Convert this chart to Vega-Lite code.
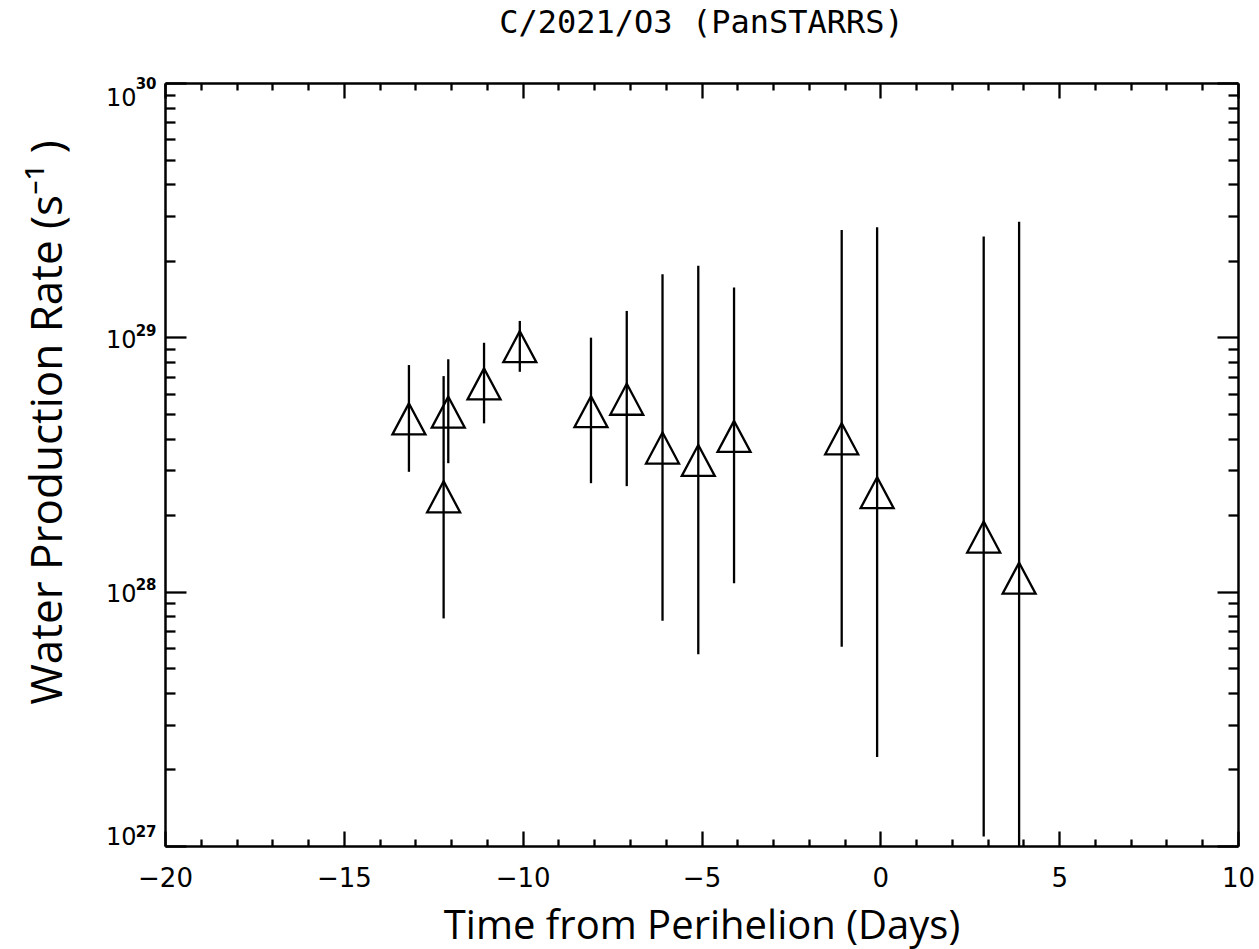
{
  "$schema": "https://vega.github.io/schema/vega-lite/v6.json",
  "width": 1073,
  "height": 763,
  "autosize": "none",
  "padding": {"left": 165, "top": 83, "right": 21, "bottom": 103},
  "background": "white",
  "title": {
    "text": "C/2021/O3 (PanSTARRS)",
    "font": "DejaVu Sans Mono",
    "fontSize": 32,
    "fontWeight": "normal",
    "color": "black",
    "offset": 36
  },
  "data": {
    "values": [
      {"t": -13.18, "q": 4.78e28, "lo": 2.96e28, "hi": 7.78e28},
      {"t": -12.21, "q": 2.36e28, "lo": 7.85e27, "hi": 7.04e28},
      {"t": -12.08, "q": 5.08e28, "lo": 3.2e28, "hi": 8.2e28},
      {"t": -11.08, "q": 6.56e28, "lo": 4.59e28, "hi": 9.52e28},
      {"t": -10.08, "q": 9.19e28, "lo": 7.32e28, "hi": 1.16e29},
      {"t": -8.09, "q": 5.1e28, "lo": 2.67e28, "hi": 9.97e28},
      {"t": -7.09, "q": 5.71e28, "lo": 2.6e28, "hi": 1.27e29},
      {"t": -6.09, "q": 3.67e28, "lo": 7.69e27, "hi": 1.77e29},
      {"t": -5.09, "q": 3.28e28, "lo": 5.68e27, "hi": 1.91e29},
      {"t": -4.09, "q": 4.08e28, "lo": 1.08e28, "hi": 1.57e29},
      {"t": -1.08, "q": 3.99e28, "lo": 6.07e27, "hi": 2.64e29},
      {"t": -0.09, "q": 2.45e28, "lo": 2.24e27, "hi": 2.71e29},
      {"t": 2.89, "q": 1.64e28, "lo": 1.09e27, "hi": 2.49e29},
      {"t": 3.88, "q": 1.13e28, "lo": 5e26, "hi": 2.85e29}
    ]
  },
  "layer": [
    {
      "mark": {"type": "rule", "color": "black", "strokeWidth": 2.3, "clip": true},
      "encoding": {
        "x": {
          "field": "t", "type": "quantitative",
          "scale": {"domain": [-20, 10], "nice": false, "zero": false},
          "axis": {
            "orient": "bottom",
            "title": "Time from Perihelion (Days)",
            "values": [-20, -15, -10, -5, 0, 5, 10],
            "tickSize": -15,
            "labelPadding": 34,
            "labelFlush": false,
            "titleFont": "Open Sans",
            "titleFontSize": 40,
            "titleFontWeight": "normal",
            "titleBaseline": "alphabetic",
            "titleY": 92
          }
        },
        "y": {
          "field": "lo", "type": "quantitative",
          "scale": {"type": "log", "domain": [1e27, 1e30], "nice": false},
          "axis": {
            "orient": "left",
            "title": "Water Production Rate (s⁻¹ )",
            "values": [1e27, 1e28, 1e29, 1e30],
            "labelExpr": "'10'",
            "labelFontSize": 24,
            "labelFlush": true,
            "labelOffset": 3,
            "tickSize": -21,
            "labelPadding": 50,
            "titleFont": "Open Sans",
            "titleFontSize": 44,
            "titleFontWeight": "normal",
            "titleBaseline": "alphabetic",
            "titleAngle": -90,
            "titleX": -104,
            "titleY": 339
          }
        },
        "y2": {"field": "hi"}
      }
    },
    {
      "mark": {"type": "point", "shape": "M0,-0.94L-1,0.94L1,0.94Z", "size": 1089, "filled": false, "color": "black", "strokeWidth": 2.3, "opacity": 1},
      "encoding": {
        "x": {
          "field": "t", "type": "quantitative",
          "scale": {"domain": [-20, 10], "nice": false, "zero": false},
          "axis": {"orient": "top", "title": null, "labels": false, "values": [-20, -15, -10, -5, 0, 5, 10], "tickSize": -15}
        },
        "y": {
          "field": "q", "type": "quantitative",
          "scale": {"type": "log", "domain": [1e27, 1e30], "nice": false},
          "axis": {"orient": "right", "title": null, "labels": false, "values": [1e27, 1e28, 1e29, 1e30], "tickSize": -21}
        }
      }
    },
    {
      "mark": {"type": "point", "opacity": 0},
      "encoding": {
        "x": {
          "field": "t", "type": "quantitative",
          "scale": {"domain": [-20, 10], "nice": false, "zero": false},
          "axis": {"orient": "bottom", "title": null, "labels": false, "domain": false, "tickSize": -7,
            "values": [-19, -18, -17, -16, -14, -13, -12, -11, -9, -8, -7, -6, -4, -3, -2, -1, 1, 2, 3, 4, 6, 7, 8, 9]}
        },
        "y": {
          "field": "q", "type": "quantitative",
          "scale": {"type": "log", "domain": [1e27, 1e30], "nice": false},
          "axis": {"orient": "left", "title": null, "labels": false, "domain": false, "tickSize": -10,
            "values": [2e27, 3e27, 4e27, 5e27, 6e27, 7e27, 8e27, 9e27, 2e28, 3e28, 4e28, 5e28, 6e28, 7e28, 8e28, 9e28, 2e29, 3e29, 4e29, 5e29, 6e29, 7e29, 8e29, 9e29]}
        }
      }
    },
    {
      "mark": {"type": "point", "opacity": 0},
      "encoding": {
        "x": {
          "field": "t", "type": "quantitative",
          "scale": {"domain": [-20, 10], "nice": false, "zero": false},
          "axis": {"orient": "top", "title": null, "labels": false, "domain": false, "tickSize": -7,
            "values": [-19, -18, -17, -16, -14, -13, -12, -11, -9, -8, -7, -6, -4, -3, -2, -1, 1, 2, 3, 4, 6, 7, 8, 9]}
        },
        "y": {
          "field": "q", "type": "quantitative",
          "scale": {"type": "log", "domain": [1e27, 1e30], "nice": false},
          "axis": {"orient": "right", "title": null, "labels": false, "domain": false, "tickSize": -10,
            "values": [2e27, 3e27, 4e27, 5e27, 6e27, 7e27, 8e27, 9e27, 2e28, 3e28, 4e28, 5e28, 6e28, 7e28, 8e28, 9e28, 2e29, 3e29, 4e29, 5e29, 6e29, 7e29, 8e29, 9e29]}
        }
      }
    },
    {
      "mark": {"type": "point", "opacity": 0},
      "encoding": {
        "y": {
          "field": "q", "type": "quantitative",
          "scale": {"type": "log", "domain": [1e27, 1e30], "nice": false},
          "axis": {
            "orient": "left", "title": null, "domain": false, "ticks": false,
            "values": [1e27, 1e28, 1e29, 1e30],
            "labelExpr": "format(round(log(datum.value) / LN10), 'd')",
            "labelFontSize": 15,
            "labelFontWeight": "bold",
            "labelFlush": true,
            "labelOffset": -7,
            "labelPadding": 9
          }
        }
      }
    }
  ],
  "resolve": {"axis": {"x": "independent", "y": "independent"}},
  "config": {
    "view": {"stroke": null},
    "axis": {
      "grid": false,
      "domainColor": "black",
      "domainWidth": 2.5,
      "tickColor": "black",
      "tickWidth": 2.3,
      "labelFont": "DejaVu Sans",
      "labelFontSize": 26,
      "labelColor": "black",
      "titleColor": "black"
    }
  }
}
